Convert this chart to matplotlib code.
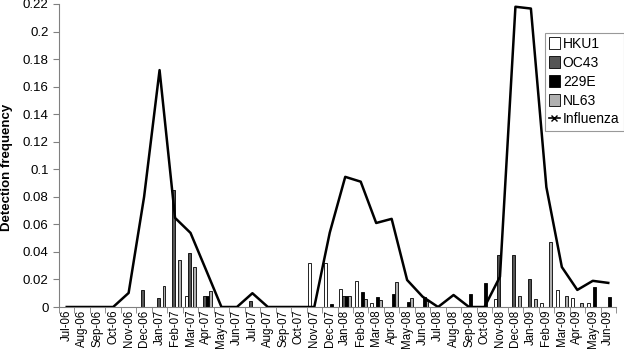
import matplotlib
matplotlib.use('Agg')
import matplotlib.pyplot as plt
from matplotlib.lines import Line2D
from matplotlib.patches import Patch
import numpy as np

plt.rcParams['font.family'] = ['Liberation Sans', 'DejaVu Sans']

months = ['Jul-06', 'Aug-06', 'Sep-06', 'Oct-06', 'Nov-06', 'Dec-06',
          'Jan-07', 'Feb-07', 'Mar-07', 'Apr-07', 'May-07', 'Jun-07',
          'Jul-07', 'Aug-07', 'Sep-07', 'Oct-07', 'Nov-07', 'Dec-07',
          'Jan-08', 'Feb-08', 'Mar-08', 'Apr-08', 'May-08', 'Jun-08',
          'Jul-08', 'Aug-08', 'Sep-08', 'Oct-08', 'Nov-08', 'Dec-08',
          'Jan-09', 'Feb-09', 'Mar-09', 'Apr-09', 'May-09', 'Jun-09']

hku1 = [0, 0, 0, 0, 0, 0,
        0, 0, 0.008, 0, 0, 0,
        0, 0, 0, 0, 0.032, 0.032,
        0.013, 0.0187, 0.003, 0, 0, 0,
        0, 0, 0, 0, 0.0058, 0,
        0, 0.003, 0.0124, 0.0065, 0.003, 0]
oc43 = [0, 0, 0, 0, 0, 0.012,
        0.0063, 0.085, 0.0395, 0.008, 0, 0,
        0.0046, 0, 0, 0, 0, 0,
        0.008, 0, 0, 0, 0, 0,
        0, 0, 0, 0, 0.038, 0.038,
        0.0204, 0, 0, 0, 0, 0]
e229 = [0, 0, 0, 0, 0, 0,
        0, 0, 0, 0.008, 0, 0,
        0, 0, 0, 0, 0, 0.002,
        0.008, 0.011, 0.007, 0.0092, 0.0034, 0.0075,
        0, 0, 0.0094, 0.0175, 0, 0,
        0, 0, 0, 0, 0.0145, 0.0073]
nl63 = [0, 0, 0, 0, 0, 0,
        0.0153, 0.034, 0.0293, 0.0114, 0, 0,
        0, 0, 0, 0, 0, 0,
        0.008, 0.0058, 0.0048, 0.018, 0.0068, 0.0044,
        0, 0, 0, 0, 0, 0.008,
        0.0056, 0.047, 0.0078, 0.003, 0, 0]
influenza = [0, 0, 0, 0, 0.0102, 0.08,
             0.172, 0.0647, 0.0538, 0.027, 0, 0,
             0.01, 0, 0, 0, 0, 0.054,
             0.0945, 0.091, 0.061, 0.064, 0.0196, 0.0075,
             0, 0.0087, 0, 0, 0.022, 0.218,
             0.2167, 0.087, 0.029, 0.0124, 0.019, 0.0175]

series = [('HKU1', hku1, 'white'), ('OC43', oc43, '#555555'),
          ('229E', e229, 'black'), ('NL63', nl63, '#b0b0b0')]

fig = plt.figure(figsize=(6.24, 3.55), dpi=100)
ax = fig.add_axes([59 / 624, 48 / 355, 557 / 624, 303 / 355])

x = np.arange(len(months))
w = 0.19
for i, (name, vals, col) in enumerate(series):
    ax.bar(x + (i - 1.5) * w, vals, width=w, color=col,
           edgecolor='black', linewidth=0.6, zorder=2)

ax.plot(x, influenza, color='black', linewidth=1.8, zorder=3)

ax.set_xlim(-0.5, len(months) - 0.5)
ax.set_ylim(0, 0.22)
yt = np.round(np.arange(0, 0.2201, 0.02), 2)
ax.set_yticks(yt)
ax.set_yticklabels(['%g' % v for v in yt])
ax.set_xticks(x)
ax.set_xticklabels(months, rotation=90)
ax.set_xticks(np.arange(-0.5, len(months), 1), minor=True)
ax.tick_params(axis='x', which='major', length=0, labelsize=8.3, pad=2)
ax.tick_params(axis='x', which='minor', length=4, color='#808080')
ax.tick_params(axis='y', length=4, color='#808080', labelsize=9.5)

for s in ['top', 'right']:
    ax.spines[s].set_visible(False)
for s in ['left', 'bottom']:
    ax.spines[s].set_color('#808080')
    ax.spines[s].set_linewidth(0.8)

ax.set_ylabel('Detection frequency', fontweight='bold', fontsize=9.5)
ax.yaxis.set_label_coords(-0.082, 0.46)

handles = [Patch(facecolor=col, edgecolor='black', linewidth=0.6, label=name)
           for name, vals, col in series]
handles.append(Line2D([0], [0], color='black', linewidth=1.2, marker='x',
                      markersize=4, label='Influenza'))
leg = ax.legend(handles=handles, loc='upper left', bbox_to_anchor=(0.872, 0.905),
                fontsize=10, frameon=True, fancybox=False, handlelength=0.8,
                handleheight=0.9, handletextpad=0.2, labelspacing=0.35,
                borderpad=0.3, borderaxespad=0)
leg.get_frame().set_edgecolor('#808080')
leg.get_frame().set_linewidth(0.8)

fig.savefig('out.png', dpi=100)
